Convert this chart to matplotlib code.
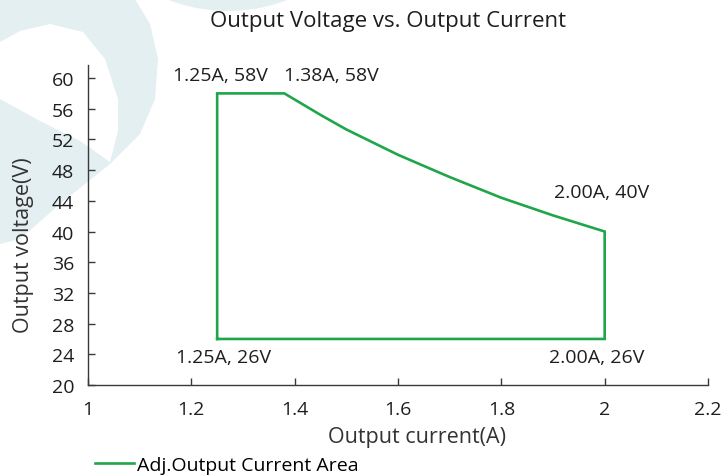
import matplotlib
matplotlib.use("Agg")
import matplotlib.pyplot as plt
from matplotlib.patches import Circle, Polygon

# Boundary of the adjustable output area
current = [1.25, 1.25, 1.38, 1.45, 1.5, 1.6, 1.7, 1.8, 1.9, 2.0, 2.0, 1.25]
voltage = [26, 58, 58, 55.2, 53.3, 50.0, 47.1, 44.4, 42.1, 40, 26, 26]

corner_labels = ["1.25A, 58V", "1.38A, 58V", "2.00A, 40V", "1.25A, 26V", "2.00A, 26V"]
label_x = [1.2555, 1.472, 1.995, 1.263, 1.985]
label_y = [60.4, 60.4, 45.2, 23.7, 23.7]

x_ticks = [1, 1.2, 1.4, 1.6, 1.8, 2, 2.2]
y_ticks = [20, 24, 28, 32, 36, 40, 44, 48, 52, 56, 60]

plt.rcParams["font.family"] = ["Open Sans", "DejaVu Sans"]
text_color = "#1e1e1e"
green = "#1fa64a"
W, H = 723, 477

fig = plt.figure(figsize=(7.23, 4.77), dpi=100)

# faint logo watermark behind everything (pixel coordinates)
bg = fig.add_axes([0, 0, 1, 1], zorder=-10)
bg.set_xlim(0, W)
bg.set_ylim(H, 0)
bg.axis("off")
wm = "#e3eff0"
bg.add_patch(Polygon([(0, 0), (135, 0), (150, 25), (158, 60), (155, 100),
                      (140, 135), (110, 165), (60, 205), (20, 240), (0, 245)],
                     closed=True, color=wm, lw=0))
bg.add_patch(Polygon([(0, 43), (20, 32), (50, 25), (83, 33), (105, 60),
                      (118, 100), (118, 132), (110, 163), (80, 142),
                      (40, 122), (0, 100)], closed=True, color="white", lw=0))
bg.add_patch(Circle((228, -152), 164, color=wm, lw=0))

ax = fig.add_axes([88 / W, 1 - 386 / H, 620 / W, 320 / H])
ax.patch.set_alpha(0)

ax.plot(current, voltage, color=green, linewidth=1.9, solid_joinstyle="miter",
        label="Adj.Output Current Area")

for txt, x, y in zip(corner_labels, label_x, label_y):
    ax.text(x, y, txt, ha="center", va="center", fontsize=14, color=text_color)

ax.set_xlim(1, 2.2)
ax.set_ylim(20, 61.7)
ax.set_xticks(x_ticks)
ax.set_xticklabels([f"{v:g}" for v in x_ticks])
ax.set_yticks(y_ticks)
ax.tick_params(direction="in", length=5, width=1, labelsize=14,
               colors="#3a3a3a", labelcolor=text_color)
ax.tick_params(axis="y", pad=10)
ax.tick_params(axis="x", pad=11)
for side in ("top", "right"):
    ax.spines[side].set_visible(False)
for side in ("left", "bottom"):
    ax.spines[side].set_color("#3a3a3a")
    ax.spines[side].set_linewidth(1)

ax.set_xlabel("Output current(A)", fontsize=15.5, color="#333333", va="center")
ax.set_ylabel("Output voltage(V)", fontsize=15.5, color="#333333", va="center")
ax.xaxis.set_label_coords((417 - 88) / 620, -(438 - 386) / 320)
ax.yaxis.set_label_coords((24 - 88) / 620, (386 - 245) / 320)

fig.text(388 / W, 1 - 21 / H, "Output Voltage vs. Output Current",
         ha="center", va="center", fontsize=16, color=text_color)

fig.legend(*ax.get_legend_handles_labels(), loc="center left",
           bbox_to_anchor=(95 / W, 1 - 466 / H), frameon=False, fontsize=14,
           handlelength=2.0, handletextpad=0.15, borderpad=0, borderaxespad=0)

fig.savefig("out.png", dpi=100)
